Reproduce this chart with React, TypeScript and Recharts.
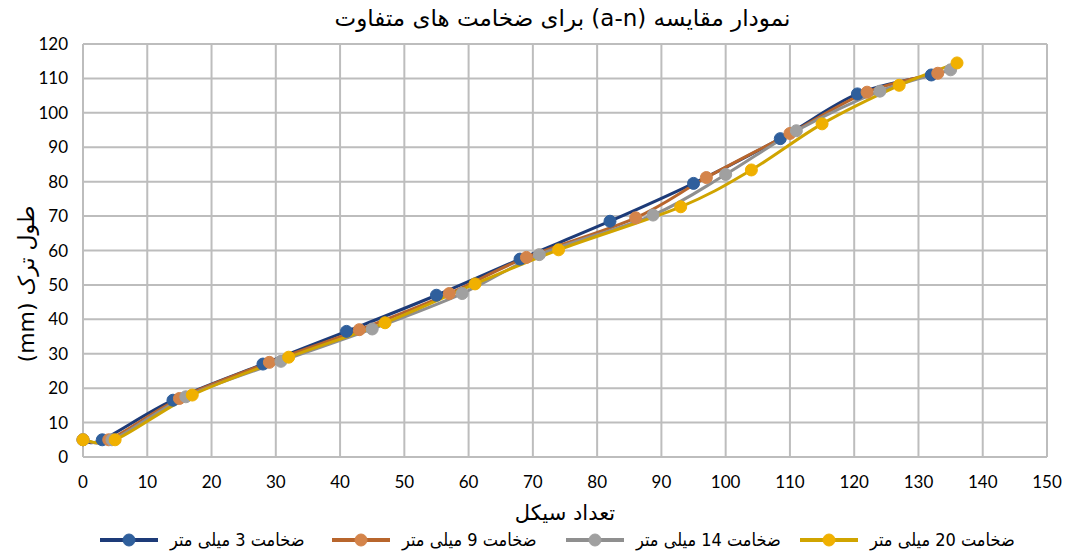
import { LineChart, Line, XAxis, YAxis, CartesianGrid, Label } from 'recharts'

const title = 'نمودار مقایسه (a-n) برای ضخامت های متفاوت'
const xLabel = 'تعداد سیکل'
const yLabel = 'طول ترک (mm)'

const xTicks = [0, 10, 20, 30, 40, 50, 60, 70, 80, 90, 100, 110, 120, 130, 140, 150]
const yTicks = [0, 10, 20, 30, 40, 50, 60, 70, 80, 90, 100, 110, 120]

const names = ['ضخامت 3 میلی متر', 'ضخامت 9 میلی متر', 'ضخامت 14 میلی متر', 'ضخامت 20 میلی متر']

const cycles3 = [0, 3, 14, 28, 41, 55, 68, 82, 95, 108.5, 120.5, 132]
const crack3 = [5, 5, 16.5, 27, 36.5, 47, 57.5, 68.5, 79.5, 92.5, 105.5, 111]

const cycles9 = [0, 4, 15, 29, 43, 57, 69, 86, 97, 110, 122, 133]
const crack9 = [5, 5, 17, 27.5, 37, 47.5, 58, 69.5, 81.2, 94, 106, 111.5]

const cycles14 = [0, 4.5, 16, 30.8, 45, 59, 71, 88.7, 100, 111, 124, 135]
const crack14 = [5, 5, 17.5, 27.8, 37.2, 47.5, 58.8, 70.3, 82.1, 94.8, 106.3, 112.5]

const cycles20 = [0, 5, 17, 32, 47, 61, 74, 93, 104, 115, 127, 136]
const crack20 = [5, 5, 18, 29, 39, 50.3, 60.2, 72.7, 83.4, 96.8, 108, 114.5]

const lineColors = ['#1D3B78', '#B8652C', '#8F8F8F', '#D0A400']
const dotColors = ['#2F5F9C', '#D4844A', '#A0A0A0', '#F0B000']

const toPoints = (xs: number[], ys: number[]) => xs.map((x, i) => ({ x, y: ys[i] }))

const series = [
  toPoints(cycles3, crack3),
  toPoints(cycles9, crack9),
  toPoints(cycles14, crack14),
  toPoints(cycles20, crack20),
]

// Excel-like smoothed line (Catmull-Rom style bezier)
const smoothCurve = (context: any) => {
  let pts: number[][] = []
  return {
    areaStart() {},
    areaEnd() {},
    lineStart() {
      pts = []
    },
    point(x: number, y: number) {
      pts.push([x, y])
    },
    lineEnd() {
      if (!pts.length) return
      context.moveTo(pts[0][0], pts[0][1])
      const t = 1 / 6
      for (let i = 0; i < pts.length - 1; i++) {
        const p0 = pts[i - 1] || pts[i]
        const p1 = pts[i]
        const p2 = pts[i + 1]
        const p3 = pts[i + 2] || p2
        context.bezierCurveTo(
          p1[0] + (p2[0] - p0[0]) * t,
          p1[1] + (p2[1] - p0[1]) * t,
          p2[0] - (p3[0] - p1[0]) * t,
          p2[1] - (p3[1] - p1[1]) * t,
          p2[0],
          p2[1]
        )
      }
    },
  }
}

const legendLefts = [100, 332, 566, 800]
const faFont = '"DejaVu Sans", sans-serif'

export default function App() {
  return (
    <div style={{ position: 'absolute', left: 0, top: 0, width: 1065, height: 553, background: '#fff' }}>
      <LineChart
        width={1065}
        height={553}
        margin={{ top: 44, right: 18, bottom: 0, left: 23 }}
        style={{ position: 'absolute', left: 0, top: 0 }}
      >
        <CartesianGrid stroke="#BDBDBD" strokeWidth={2} />
        <XAxis
          type="number"
          dataKey="x"
          domain={[0, 150]}
          ticks={xTicks}
          interval={0}
          height={96}
          tickSize={0}
          tickMargin={19}
          axisLine={{ stroke: '#BDBDBD', strokeWidth: 2 }}
          tick={{ fill: '#000', fontSize: 17, fontFamily: 'Lato, sans-serif' }}
          allowDuplicatedCategory={false}
        >
          <Label
            value={xLabel}
            position="insideTop"
            offset={48}
            style={{ fill: '#000', fontSize: 21, fontFamily: faFont }}
          />
        </XAxis>
        <YAxis
          type="number"
          dataKey="y"
          domain={[0, 120]}
          ticks={yTicks}
          interval={0}
          width={60}
          tickSize={0}
          tickMargin={15}
          axisLine={{ stroke: '#BDBDBD', strokeWidth: 2 }}
          tick={{ fill: '#000', fontSize: 17, fontFamily: 'Lato, sans-serif' }}
        />
        {series.map((pts, i) => (
          <Line
            key={names[i]}
            data={pts}
            dataKey="y"
            name={names[i]}
            type={smoothCurve as any}
            stroke={lineColors[i]}
            strokeWidth={3}
            dot={{ r: 6, fill: dotColors[i], stroke: dotColors[i], strokeWidth: 1 }}
            isAnimationActive={false}
          />
        ))}
      </LineChart>

      <div
        style={{
          position: 'absolute',
          left: 30,
          top: 5,
          width: 1065,
          textAlign: 'center',
          direction: 'rtl',
          fontFamily: faFont,
          fontSize: 23,
          color: '#000',
        }}
      >
        {title}
      </div>

      <div
        style={{
          position: 'absolute',
          left: 26,
          top: 284,
          transform: 'translate(-50%, -50%) rotate(-90deg)',
          direction: 'rtl',
          whiteSpace: 'nowrap',
          fontFamily: faFont,
          fontSize: 22,
          color: '#000',
        }}
      >
        {yLabel}
      </div>

      {names.map((n, i) => (
        <div
          key={n}
          style={{
            position: 'absolute',
            left: legendLefts[i],
            top: 529,
            display: 'flex',
            alignItems: 'center',
            gap: 12,
          }}
        >
          <svg width={58} height={16}>
            <line x1={0} y1={8} x2={58} y2={8} stroke={lineColors[i]} strokeWidth={4} />
            <circle cx={29} cy={8} r={6} fill={dotColors[i]} stroke={dotColors[i]} />
          </svg>
          <span
            style={{
              direction: 'rtl',
              fontFamily: '"DejaVu Sans Condensed", "DejaVu Sans", sans-serif',
              fontSize: 18,
              color: '#000',
              whiteSpace: 'nowrap',
            }}
          >
            {n}
          </span>
        </div>
      ))}
    </div>
  )
}
